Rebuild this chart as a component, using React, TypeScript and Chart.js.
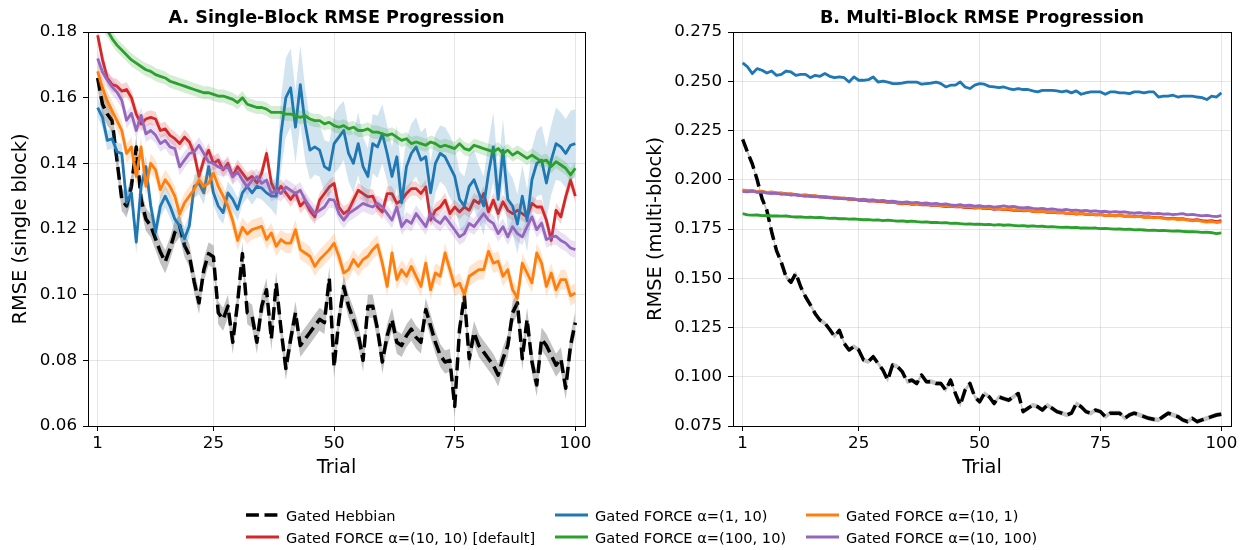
import React, { useEffect, useRef } from "react";
import { Chart, registerables } from "chart.js";
Chart.register(...registerables);

const FONT = '"DejaVu Sans", sans-serif';

const trials = Array.from({ length: 100 }, (_, i) => i + 1);
const xTickValues = [1, 25, 50, 75, 100];
const yTicksA = [0.06, 0.08, 0.1, 0.12, 0.14, 0.16, 0.18];
const yTicksB = [0.075, 0.1, 0.125, 0.15, 0.175, 0.2, 0.225, 0.25, 0.275];

const seriesNames = [
  "Gated Hebbian",
  "Gated FORCE α=(10, 10) [default]",
  "Gated FORCE α=(1, 10)",
  "Gated FORCE α=(100, 10)",
  "Gated FORCE α=(10, 1)",
  "Gated FORCE α=(10, 100)",
];
const seriesColors = ["#000000", "#d62728", "#1f77b4", "#2ca02c", "#ff7f0e", "#9467bd"];
const bandColors = [
  "rgba(0,0,0,0.24)",
  "rgba(214,39,40,0.2)",
  "rgba(31,119,180,0.2)",
  "rgba(44,160,44,0.2)",
  "rgba(255,127,14,0.2)",
  "rgba(148,103,189,0.2)",
];

// ---------- Panel A: single-block RMSE ----------
const hebbianA = [
  0.166, 0.158, 0.155, 0.153, 0.141, 0.129, 0.127, 0.133, 0.145, 0.129,
  0.123, 0.121, 0.117, 0.113, 0.110, 0.114, 0.119, 0.121, 0.115, 0.112,
  0.104, 0.0975, 0.1075, 0.1125, 0.1115, 0.0945, 0.0925, 0.0965, 0.0855, 0.0975,
  0.1125, 0.0945, 0.0935, 0.0855, 0.0965, 0.1015, 0.0865, 0.1035, 0.0895, 0.0775,
  0.0865, 0.0945, 0.0845, 0.0865, 0.0885, 0.0905, 0.0925, 0.0915, 0.105, 0.078,
  0.0925, 0.1025, 0.0965, 0.0925, 0.088, 0.080, 0.0965, 0.0965, 0.0895, 0.0795,
  0.0875, 0.0925, 0.0855, 0.0845, 0.0875, 0.0895, 0.087, 0.0855, 0.0955, 0.0905,
  0.0855, 0.0815, 0.0795, 0.080, 0.066, 0.0895, 0.0995, 0.0805, 0.0885, 0.0845,
  0.0825, 0.0805, 0.0785, 0.0755, 0.0805, 0.0845, 0.0945, 0.0975, 0.0805, 0.0925,
  0.0795, 0.0725, 0.0865, 0.0845, 0.0815, 0.0785, 0.0805, 0.0715, 0.0845, 0.0915,
];
const force10_10A = [
  0.179, 0.1716, 0.166, 0.164, 0.1635, 0.162, 0.1625, 0.160, 0.155, 0.152,
  0.1535, 0.154, 0.1535, 0.150, 0.1505, 0.1485, 0.1475, 0.146, 0.148, 0.1465,
  0.143, 0.136, 0.141, 0.144, 0.140, 0.141, 0.138, 0.140, 0.136, 0.139,
  0.137, 0.135, 0.136, 0.134, 0.137, 0.143, 0.134, 0.131, 0.133, 0.131,
  0.129, 0.131, 0.127, 0.1285, 0.1255, 0.1237, 0.1288, 0.1308, 0.1328, 0.1339,
  0.1267, 0.1247, 0.1257, 0.1288, 0.1318, 0.1308, 0.1298, 0.130, 0.1267, 0.1252,
  0.1308, 0.1308, 0.1278, 0.1288, 0.1308, 0.1323, 0.1323, 0.1308, 0.1328, 0.1227,
  0.1257, 0.1267, 0.1288, 0.1247, 0.1267, 0.1252, 0.1267, 0.1257, 0.1288, 0.1278,
  0.1308, 0.1252, 0.1288, 0.1247, 0.1283, 0.1257, 0.1247, 0.1257, 0.1247, 0.1237,
  0.1278, 0.1267, 0.1267, 0.1227, 0.1165, 0.1257, 0.1237, 0.1298, 0.1349, 0.130,
];
const force1_10A = [
  0.157, 0.154, 0.147, 0.1475, 0.1435, 0.143, 0.128, 0.131, 0.116, 0.133,
  0.139, 0.127, 0.119, 0.127, 0.130, 0.127, 0.123, 0.121, 0.117, 0.121,
  0.133, 0.134, 0.131, 0.139, 0.131, 0.127, 0.125, 0.131, 0.129, 0.126,
  0.131, 0.133, 0.131, 0.133, 0.1325, 0.131, 0.130, 0.130, 0.149, 0.160,
  0.163, 0.151, 0.164, 0.152, 0.144, 0.145, 0.144, 0.139, 0.138, 0.146,
  0.148, 0.150, 0.143, 0.140, 0.146, 0.139, 0.136, 0.146, 0.145, 0.149,
  0.143, 0.136, 0.142, 0.128, 0.139, 0.143, 0.145, 0.141, 0.142, 0.131,
  0.140, 0.143, 0.142, 0.139, 0.136, 0.129, 0.127, 0.133, 0.135, 0.131,
  0.127, 0.137, 0.145, 0.129, 0.144, 0.129, 0.127, 0.1215, 0.130, 0.1225,
  0.135, 0.140, 0.141, 0.134, 0.141, 0.146, 0.145, 0.143, 0.1455, 0.146,
];
const force100_10A = [
  0.185, 0.1825, 0.1805, 0.178, 0.176, 0.1745, 0.173, 0.1715, 0.1705, 0.1695,
  0.1685, 0.168, 0.167, 0.1665, 0.166, 0.165, 0.1645, 0.164, 0.1635, 0.163,
  0.1625, 0.162, 0.1615, 0.1615, 0.161, 0.1605, 0.1605, 0.160, 0.1595, 0.1585,
  0.160, 0.158, 0.1575, 0.157, 0.157, 0.1565, 0.1555, 0.1555, 0.1555, 0.155,
  0.155, 0.1545, 0.154, 0.1545, 0.1535, 0.153, 0.153, 0.152, 0.1525, 0.1515,
  0.151, 0.1515, 0.1505, 0.151, 0.150, 0.150, 0.1505, 0.1495, 0.1495, 0.149,
  0.1485, 0.149, 0.148, 0.147, 0.1475, 0.146, 0.1465, 0.146, 0.1455, 0.1465,
  0.146, 0.145, 0.1455, 0.145, 0.1445, 0.146, 0.1445, 0.144, 0.1455, 0.145,
  0.1445, 0.144, 0.1435, 0.1445, 0.143, 0.144, 0.1425, 0.1435, 0.1425, 0.1415,
  0.1425, 0.1415, 0.1405, 0.141, 0.139, 0.1405, 0.1395, 0.1385, 0.1365, 0.1385,
];
const force10_1A = [
  0.168, 0.163, 0.159, 0.156, 0.153, 0.150, 0.143, 0.145, 0.136, 0.145,
  0.133, 0.140, 0.138, 0.132, 0.135, 0.133, 0.130, 0.1245, 0.128, 0.130,
  0.132, 0.135, 0.133, 0.134, 0.137, 0.133, 0.130, 0.127, 0.1225, 0.1165,
  0.1205, 0.1185, 0.1198, 0.1203, 0.1208, 0.1168, 0.1188, 0.1147, 0.1168, 0.1157,
  0.1157, 0.1198, 0.1137, 0.1127, 0.1117, 0.1086, 0.1107, 0.1122, 0.1137, 0.1157,
  0.1117, 0.1066, 0.1076, 0.1107, 0.1086, 0.1107, 0.1117, 0.1137, 0.1152, 0.1096,
  0.1025, 0.1127, 0.1046, 0.1076, 0.1056, 0.1086, 0.1056, 0.1025, 0.1096, 0.1015,
  0.1066, 0.1056, 0.1127, 0.1076, 0.1025, 0.1035, 0.100, 0.1056, 0.1066, 0.1076,
  0.1076, 0.1132, 0.1096, 0.1102, 0.1056, 0.1076, 0.1015, 0.099, 0.1096, 0.1066,
  0.1036, 0.1127, 0.1096, 0.1025, 0.1066, 0.1015, 0.1046, 0.1046, 0.0997, 0.1005,
];
const force10_100A = [
  0.1719, 0.1678, 0.1653, 0.1633, 0.1617, 0.1592, 0.1531, 0.1552, 0.150, 0.1546,
  0.149, 0.150, 0.1486, 0.146, 0.147, 0.145, 0.1445, 0.1389, 0.141, 0.143,
  0.1435, 0.1455, 0.143, 0.1404, 0.140, 0.1389, 0.1384, 0.1389, 0.1359, 0.1374,
  0.1349, 0.1328, 0.1349, 0.1359, 0.1339, 0.1349, 0.1308, 0.1318, 0.1308, 0.1328,
  0.1318, 0.1308, 0.1318, 0.1288, 0.1267, 0.1247, 0.1257, 0.1267, 0.129, 0.1288,
  0.1247, 0.1227, 0.1247, 0.1257, 0.1267, 0.1278, 0.1272, 0.1267, 0.1278, 0.1267,
  0.1247, 0.1227, 0.1267, 0.1207, 0.1227, 0.1217, 0.1247, 0.1227, 0.1207, 0.1247,
  0.1227, 0.1217, 0.1237, 0.1217, 0.1197, 0.1176, 0.1186, 0.1217, 0.1207, 0.1227,
  0.1247, 0.1227, 0.1217, 0.1186, 0.1207, 0.1176, 0.1207, 0.1186, 0.1176, 0.1207,
  0.1237, 0.1198, 0.1218, 0.1168, 0.1175, 0.1178, 0.1165, 0.1157, 0.1142, 0.1137,
];
// half-width of the shaded band (panel A)
const force1_10BandA = [
  0.003, 0.003, 0.003, 0.003, 0.003, 0.003, 0.0035, 0.0035, 0.0035, 0.0035,
  0.0035, 0.0035, 0.0035, 0.0035, 0.0035, 0.0035, 0.0035, 0.0035, 0.0035, 0.0035,
  0.0035, 0.0035, 0.0035, 0.0035, 0.0035, 0.0035, 0.0035, 0.0035, 0.0035, 0.0035,
  0.0035, 0.0035, 0.0035, 0.0035, 0.0035, 0.0035, 0.004, 0.006, 0.011, 0.012,
  0.012, 0.011, 0.012, 0.011, 0.009, 0.0085, 0.008, 0.008, 0.0085, 0.009,
  0.0095, 0.009, 0.0085, 0.009, 0.0095, 0.009, 0.0085, 0.009, 0.0095, 0.009,
  0.0085, 0.009, 0.0095, 0.009, 0.0085, 0.009, 0.009, 0.0085, 0.009, 0.0095,
  0.009, 0.0085, 0.009, 0.0095, 0.009, 0.0085, 0.009, 0.0095, 0.009, 0.0085,
  0.009, 0.0095, 0.0105, 0.009, 0.0095, 0.009, 0.0085, 0.009, 0.0095, 0.0095,
  0.0095, 0.01, 0.0105, 0.011, 0.0105, 0.011, 0.0105, 0.0105, 0.0105, 0.0105,
];
const bandHalfA = [0.0035, 0.0022, force1_10BandA, 0.002, 0.003, 0.0025];

// ---------- Panel B: multi-block RMSE ----------
const hebbianB = [
  0.2205, 0.214, 0.208, 0.200, 0.1905, 0.1845, 0.1735, 0.164, 0.158, 0.1505,
  0.148, 0.1525, 0.1457, 0.1406, 0.1365, 0.132, 0.1287, 0.1272, 0.124, 0.1205,
  0.1236, 0.1169, 0.1136, 0.1153, 0.1136, 0.1085, 0.1077, 0.1102, 0.1068, 0.1034,
  0.0983, 0.106, 0.1052, 0.1026, 0.0975, 0.0983, 0.0966, 0.1009, 0.0975, 0.0975,
  0.0966, 0.0966, 0.0932, 0.0983, 0.0915, 0.0856, 0.0932, 0.0966, 0.0898, 0.0873,
  0.0915, 0.0898, 0.0864, 0.0898, 0.0889, 0.0881, 0.0898, 0.0915, 0.0823, 0.084,
  0.0856, 0.0848, 0.0831, 0.0856, 0.084, 0.0823, 0.0815, 0.0806, 0.0815, 0.0864,
  0.0848, 0.0823, 0.0815, 0.0831, 0.0823, 0.0798, 0.0815, 0.0815, 0.0815, 0.0789,
  0.0806, 0.0815, 0.0806, 0.0798, 0.0789, 0.0784, 0.0781, 0.0798, 0.0815, 0.0806,
  0.0798, 0.0781, 0.0772, 0.0789, 0.0772, 0.0781, 0.0789, 0.0798, 0.0806, 0.081,
];
const force10_10B = [
  0.1946, 0.1944, 0.1942, 0.1939, 0.1939, 0.1935, 0.1935, 0.1931, 0.1931, 0.1927,
  0.1927, 0.1923, 0.192, 0.1921, 0.1916, 0.1917, 0.1912, 0.1913, 0.1908, 0.1909,
  0.1904, 0.1905, 0.19, 0.1901, 0.1896, 0.1897, 0.1892, 0.1893, 0.1889, 0.1889,
  0.1885, 0.1886, 0.1881, 0.1878, 0.188, 0.1875, 0.1877, 0.1872, 0.1874, 0.187,
  0.1871, 0.1867, 0.1864, 0.1866, 0.1862, 0.1863, 0.1859, 0.186, 0.1856, 0.1858,
  0.1853, 0.1855, 0.185, 0.1852, 0.1848, 0.1849, 0.1845, 0.1846, 0.1842, 0.1844,
  0.184, 0.1837, 0.1839, 0.1835, 0.1836, 0.1832, 0.1833, 0.1829, 0.1831, 0.1826,
  0.1828, 0.1824, 0.1826, 0.1822, 0.1823, 0.1819, 0.1821, 0.1817, 0.1819, 0.1815,
  0.1816, 0.1813, 0.1815, 0.1811, 0.1812, 0.1809, 0.181, 0.1806, 0.1803, 0.1805,
  0.1801, 0.1802, 0.1798, 0.1795, 0.1797, 0.1793, 0.179, 0.1792, 0.1788, 0.1792,
];
const force1_10B = [
  0.2593, 0.2573, 0.2539, 0.2564, 0.2556, 0.2542, 0.2552, 0.253, 0.2535, 0.2552,
  0.2547, 0.253, 0.2535, 0.2535, 0.2518, 0.253, 0.2525, 0.2539, 0.2525, 0.2518,
  0.2522, 0.2518, 0.2496, 0.2522, 0.2505, 0.2505, 0.2508, 0.2522, 0.2496, 0.2501,
  0.2496, 0.2488, 0.2488, 0.2491, 0.2496, 0.2496, 0.2496, 0.2485, 0.2488, 0.2491,
  0.2496, 0.2488, 0.2471, 0.248, 0.248, 0.2496, 0.2471, 0.2463, 0.248, 0.2488,
  0.2485, 0.2474, 0.2471, 0.2468, 0.2471, 0.2463, 0.2458, 0.2463, 0.2458, 0.2458,
  0.2451, 0.2446, 0.2454, 0.2454, 0.2454, 0.2451, 0.2446, 0.2451, 0.2441, 0.2451,
  0.2434, 0.2441, 0.2446, 0.2446, 0.2446, 0.2434, 0.2446, 0.2446, 0.2441, 0.2441,
  0.2437, 0.2446, 0.2446, 0.2441, 0.2446, 0.2446, 0.242, 0.2424, 0.2424, 0.2429,
  0.242, 0.2424, 0.2424, 0.2424, 0.242, 0.2417, 0.2407, 0.2424, 0.242, 0.2441,
];
const force100_10B = [
  0.1828, 0.1822, 0.182, 0.1821, 0.1818, 0.1819, 0.1816, 0.1817, 0.1815, 0.1816,
  0.1813, 0.1811, 0.1812, 0.1809, 0.181, 0.1808, 0.1809, 0.1806, 0.1804, 0.1805,
  0.1802, 0.1803, 0.18, 0.1801, 0.1799, 0.1797, 0.1798, 0.1795, 0.1796, 0.1793,
  0.1795, 0.1792, 0.179, 0.1791, 0.1788, 0.179, 0.1787, 0.1785, 0.1786, 0.1783,
  0.1784, 0.1781, 0.1782, 0.1779, 0.178, 0.1777, 0.1775, 0.1776, 0.1774, 0.1775,
  0.1772, 0.1773, 0.177, 0.1772, 0.1769, 0.1771, 0.1768, 0.1766, 0.1767, 0.1764,
  0.1766, 0.1763, 0.1764, 0.1761, 0.1762, 0.176, 0.1758, 0.1759, 0.1757, 0.1758,
  0.1755, 0.1756, 0.1754, 0.1755, 0.1752, 0.1753, 0.1751, 0.1749, 0.175, 0.1748,
  0.1749, 0.1746, 0.1747, 0.1745, 0.1743, 0.1744, 0.1742, 0.1743, 0.1741, 0.1739,
  0.174, 0.1738, 0.1736, 0.1737, 0.1735, 0.1733, 0.1734, 0.1731, 0.1727, 0.173,
];
const force10_1B = [
  0.1948, 0.1945, 0.1946, 0.194, 0.1942, 0.1936, 0.1938, 0.1932, 0.1934, 0.1928,
  0.193, 0.1925, 0.1922, 0.1924, 0.1918, 0.192, 0.1914, 0.1916, 0.191, 0.1912,
  0.1906, 0.1908, 0.1902, 0.1904, 0.1898, 0.19, 0.1895, 0.1897, 0.1891, 0.1893,
  0.1887, 0.1889, 0.1884, 0.188, 0.1883, 0.1878, 0.188, 0.1875, 0.1877, 0.1872,
  0.1874, 0.1869, 0.1866, 0.1869, 0.1864, 0.1866, 0.1861, 0.1863, 0.1858, 0.186,
  0.1855, 0.1857, 0.1852, 0.1855, 0.185, 0.1852, 0.1847, 0.1849, 0.1844, 0.1846,
  0.1841, 0.1838, 0.1841, 0.1836, 0.1838, 0.1833, 0.1835, 0.183, 0.1832, 0.1827,
  0.1829, 0.1825, 0.1827, 0.1822, 0.1824, 0.1819, 0.1821, 0.1817, 0.1819, 0.1814,
  0.1816, 0.1812, 0.1814, 0.1809, 0.1811, 0.1807, 0.1809, 0.1804, 0.18, 0.1803,
  0.1798, 0.18, 0.1795, 0.1791, 0.1794, 0.1789, 0.1785, 0.1788, 0.1783, 0.1786,
];
const force10_100B = [
  0.194, 0.1938, 0.1942, 0.1936, 0.1938, 0.1932, 0.193, 0.1933, 0.1926, 0.1928,
  0.1922, 0.1925, 0.192, 0.1916, 0.1919, 0.1913, 0.1915, 0.191, 0.1912, 0.1906,
  0.1908, 0.1903, 0.1905, 0.19, 0.1898, 0.1901, 0.1896, 0.1898, 0.1893, 0.1895,
  0.189, 0.1892, 0.1888, 0.1885, 0.1888, 0.1883, 0.1885, 0.188, 0.1882, 0.1878,
  0.188, 0.1875, 0.1877, 0.1873, 0.187, 0.1874, 0.1868, 0.1871, 0.1866, 0.1868,
  0.1864, 0.1866, 0.1861, 0.1864, 0.1867, 0.1862, 0.1865, 0.186, 0.1857, 0.186,
  0.1855, 0.1852, 0.1855, 0.185, 0.1852, 0.1848, 0.1846, 0.1849, 0.1844, 0.1846,
  0.1842, 0.1844, 0.184, 0.1842, 0.1838, 0.184, 0.1836, 0.1838, 0.1835, 0.1837,
  0.1833, 0.183, 0.1833, 0.1829, 0.1831, 0.1827, 0.1829, 0.1825, 0.1827, 0.1823,
  0.1825, 0.1828, 0.1822, 0.1824, 0.182, 0.1817, 0.1819, 0.1815, 0.1813, 0.1818,
];
const bandHalfB = [0.0012, 0.0006, 0.0006, 0.0006, 0.0006, 0.0006];

const seriesA = [hebbianA, force10_10A, force1_10A, force100_10A, force10_1A, force10_100A];
const seriesB = [hebbianB, force10_10B, force1_10B, force100_10B, force10_1B, force10_100B];

const DASH = [12.9, 5.6];

function buildDatasets(series: number[][], bands: (number | number[])[]) {
  const ds: any[] = [];
  series.forEach((vals, s) => {
    const hw = (i: number) => {
      const b = bands[s];
      return typeof b === "number" ? b : b[i];
    };
    const common = { pointRadius: 0, tension: 0, clip: 0 };
    ds.push({
      ...common,
      data: trials.map((t, i) => ({ x: t, y: vals[i] + hw(i) })),
      borderWidth: 0,
      borderColor: "rgba(0,0,0,0)",
      fill: false,
    });
    ds.push({
      ...common,
      data: trials.map((t, i) => ({ x: t, y: vals[i] - hw(i) })),
      borderWidth: 0,
      borderColor: "rgba(0,0,0,0)",
      backgroundColor: bandColors[s],
      fill: "-1",
    });
    ds.push({
      ...common,
      label: seriesNames[s],
      data: trials.map((t, i) => ({ x: t, y: vals[i] })),
      borderColor: seriesColors[s],
      borderWidth: s === 0 ? 3.5 : 2.8,
      borderDash: s === 0 ? DASH : [],
      borderCapStyle: "butt",
      borderJoinStyle: "round",
      fill: false,
    });
  });
  ds.forEach((d, i) => (d.order = 1000 - i));
  return ds;
}

const panelPlugin = {
  id: "panelDecor",
  afterDraw(chart: any, _args: any, opts: any) {
    const { ctx, chartArea } = chart;
    ctx.save();
    ctx.strokeStyle = "#000";
    ctx.lineWidth = 1;
    const l = Math.round(chartArea.left) + 0.5;
    const t = Math.round(chartArea.top) + 0.5;
    const r = Math.round(chartArea.right) + 0.5;
    const b = Math.round(chartArea.bottom) + 0.5;
    ctx.strokeRect(l, t, r - l, b - t);
    ctx.font = `bold 17.6px ${FONT}`;
    ctx.fillStyle = "#000";
    ctx.textAlign = "center";
    ctx.textBaseline = "alphabetic";
    ctx.fillText(opts.text, (chartArea.left + chartArea.right) / 2, 23);
    ctx.restore();
  },
};

function makeConfig(
  series: number[][],
  bands: (number | number[])[],
  yMin: number,
  yMax: number,
  yTicks: number[],
  digits: number,
  yLabel: string,
  title: string,
  yAxisWidth: number,
  padRight: number,
  yTitlePad: number
) {
  const grid = {
    color: "rgba(176,176,176,0.32)",
    lineWidth: 1,
    drawTicks: true,
    tickLength: 5,
    tickColor: "#000",
    tickWidth: 1,
  };
  return {
    type: "line",
    data: { datasets: buildDatasets(series, bands) },
    options: {
      animation: false,
      responsive: false,
      maintainAspectRatio: false,
      layout: { padding: { left: 0, top: 32, right: padRight, bottom: 0 } },
      plugins: {
        legend: { display: false },
        tooltip: { enabled: false },
        panelDecor: { text: title },
      },
      scales: {
        x: {
          type: "linear",
          min: -1,
          max: 102,
          afterBuildTicks: (s: any) => {
            s.ticks = xTickValues.map((v) => ({ value: v }));
          },
          afterFit: (s: any) => {
            s.height = 64;
          },
          grid,
          border: { display: false },
          ticks: {
            color: "#000",
            font: { family: FONT, size: 16.7 },
            padding: 3,
            maxRotation: 0,
            autoSkip: false,
            callback: (v: any) => String(v),
          },
          title: {
            display: true,
            text: "Trial",
            color: "#000",
            font: { family: FONT, size: 19.4 },
            padding: { top: 0, bottom: 10.6 },
          },
        },
        y: {
          type: "linear",
          min: yMin,
          max: yMax,
          afterBuildTicks: (s: any) => {
            s.ticks = yTicks.map((v) => ({ value: v }));
          },
          afterFit: (s: any) => {
            s.width = yAxisWidth;
          },
          grid,
          border: { display: false },
          ticks: {
            color: "#000",
            font: { family: FONT, size: 16.7 },
            padding: 6,
            autoSkip: false,
            callback: (v: any) => Number(v).toFixed(digits),
          },
          title: {
            display: true,
            text: yLabel,
            color: "#000",
            font: { family: FONT, size: 19.4 },
            padding: { top: yTitlePad, bottom: 0 },
          },
        },
      },
    },
    plugins: [panelPlugin],
  };
}

export default function App() {
  const refA = useRef<HTMLCanvasElement | null>(null);
  const refB = useRef<HTMLCanvasElement | null>(null);

  useEffect(() => {
    const cA = new Chart(
      refA.current as HTMLCanvasElement,
      makeConfig(seriesA, bandHalfA, 0.06, 0.18, yTicksA, 2, "RMSE (single block)",
        "A. Single-Block RMSE Progression", 88, 35, 9.7) as any
    );
    const cB = new Chart(
      refB.current as HTMLCanvasElement,
      makeConfig(seriesB, bandHalfB, 0.075, 0.275, yTicksB, 3, "RMSE (multi-block)",
        "B. Multi-Block RMSE Progression", 113, 16, 24.2) as any
    );
    return () => {
      cA.destroy();
      cB.destroy();
    };
  }, []);

  const legendCols = [246, 555, 806];
  const legendRows = [515, 537];
  const legendPos = [
    [0, 0], [0, 1], [1, 0], [1, 1], [2, 0], [2, 1],
  ];

  return (
    <div
      style={{
        position: "absolute",
        left: 0,
        top: 0,
        width: 1247,
        height: 550,
        background: "#fff",
        overflow: "hidden",
      }}
    >
      <canvas
        ref={refA}
        width={620}
        height={490}
        style={{ position: "absolute", left: 0, top: 0, width: 620, height: 490 }}
      />
      <canvas
        ref={refB}
        width={627}
        height={490}
        style={{ position: "absolute", left: 620, top: 0, width: 627, height: 490 }}
      />
      <svg
        width={1247}
        height={550}
        style={{ position: "absolute", left: 0, top: 0, pointerEvents: "none" }}
      >
        {seriesNames.map((name, s) => {
          const x = legendCols[legendPos[s][0]];
          const y = legendRows[legendPos[s][1]];
          return (
            <g key={name}>
              <line
                x1={x}
                x2={x + 33}
                y1={y}
                y2={y}
                stroke={seriesColors[s]}
                strokeWidth={s === 0 ? 3.5 : 2.8}
                strokeDasharray={s === 0 ? DASH.join(" ") : undefined}
              />
              <text
                x={x + 40}
                y={y}
                dominantBaseline="central"
                style={{ fontFamily: FONT, fontSize: "14.6px", fill: "#000" }}
              >
                {name}
              </text>
            </g>
          );
        })}
      </svg>
    </div>
  );
}
